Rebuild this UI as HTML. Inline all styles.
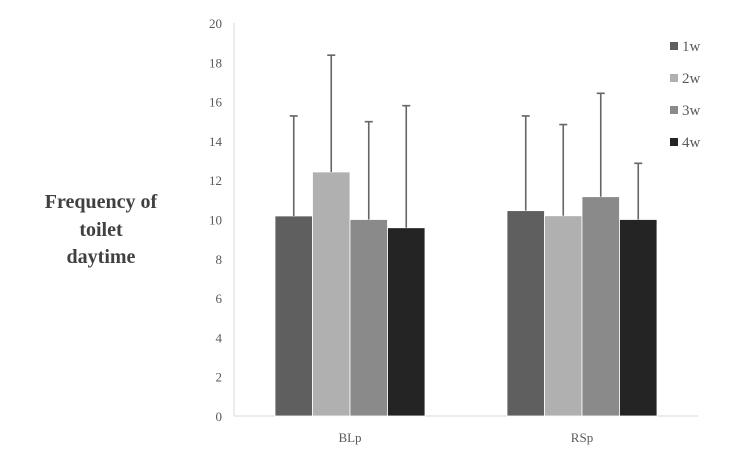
<!DOCTYPE html>
<html><head><meta charset="utf-8"><style>
body{margin:0;background:#fff}
svg{display:block;font-family:"Liberation Serif",serif}
</style></head><body>
<svg id="c" width="740" height="457">
<g font-weight="bold" font-size="20" fill="#404040" text-anchor="middle">
<text x="101" y="208">Frequency of</text>
<text x="101" y="236">toilet</text>
<text x="101" y="263">daytime</text>
</g>
</svg>
<script>
const categories=["BLp","RSp"];
const seriesNames=["1w","2w","3w","4w"];
const means=[[10.18,10.45],[12.42,10.19],[10.0,11.16],[9.58,10.0]];
const errors=[[5.09,4.82],[5.94,4.64],[4.98,5.26],[6.21,2.86]];
const yTicks=[0,2,4,6,8,10,12,14,16,18,20];
const colors=["#5f5f5f","#b0b0b0","#8a8a8a","#242424"];
const svg=document.getElementById('c');const NS="http://www.w3.org/2000/svg";
const X0=234,X1=698,Y0=416,Y20=23;
const y=v=>Y0-(v/20)*(Y0-Y20);
const bw=37.5,catW=(X1-X0)/categories.length;
const cx=i=>X0+catW*(i+0.5);
function mk(t,a,p){const e=document.createElementNS(NS,t);for(const k in a)e.setAttribute(k,a[k]);(p||svg).appendChild(e);return e;}
const ax=mk('line',{x1:X0,y1:Y20,x2:X0,y2:Y0,stroke:'#d9d9d9'});


yTicks.forEach(t=>{const e=mk('text',{x:X0-12,y:y(t)+5,'text-anchor':'end','font-size':13,fill:'#595959'});e.textContent=t;

});
const xa=mk('line',{x1:X0,y1:Y0,x2:X1,y2:Y0,stroke:'#d9d9d9'});


categories.forEach((c,i)=>{
 const e=mk('text',{x:cx(i),y:Y0+26,'text-anchor':'middle','font-size':13,fill:'#595959'});e.textContent=c;
 
 
 seriesNames.forEach((s,j)=>{
  const v=means[j][i],bx=cx(i)-bw*2+bw*j;
  const r=mk('rect',{x:bx,y:y(v),width:bw,height:Y0-y(v),fill:colors[j],stroke:'#fff','stroke-width':0.8});
  
  
  const mx=bx+bw/2,top=y(v+errors[j][i]);
  const l=mk('path',{d:`M${mx},${y(v)}V${top}M${mx-4},${top}H${mx+4}`,stroke:'#666','stroke-width':1.6,fill:'none'});
  
  
 });
});
seriesNames.forEach((s,j)=>{
 const g=mk('g',{});
 
 
 const yy=46+j*32;
 mk('rect',{x:670,y:yy-4,width:8,height:8,fill:colors[j]},g);
 const t=mk('text',{x:682,y:yy+5,'font-size':15,fill:'#595959'},g);t.textContent=s;
});
</script>
</body></html>
